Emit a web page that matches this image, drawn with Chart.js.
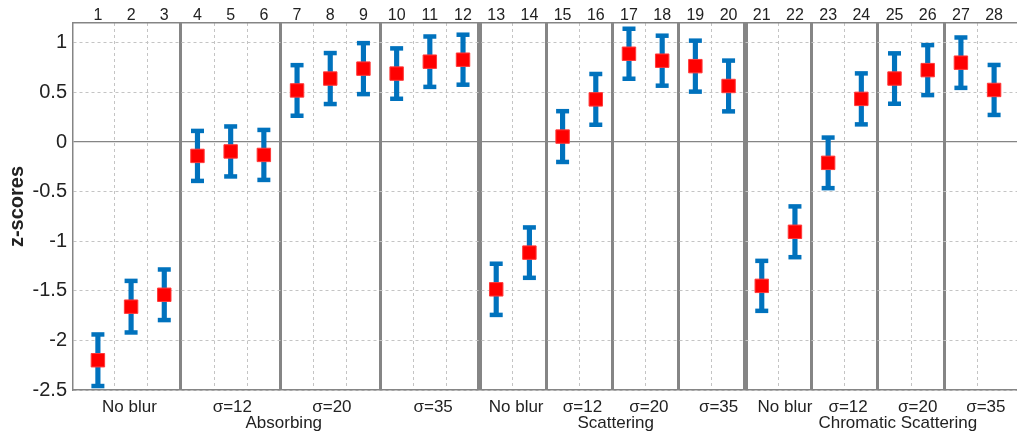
<!DOCTYPE html>
<html>
<head>
<meta charset="utf-8">
<script src="https://cdn.jsdelivr.net/npm/chart.js@4"></script>
<style>
  html, body { margin: 0; padding: 0; background: #fff; overflow: hidden; }
  canvas { display: block; }
</style>
</head>
<body>
<canvas id="chart" width="1030" height="434"></canvas>
<script>
// conditions along the x axis and their labels on top
const conditions = [1, 2, 3, 4, 5, 6, 7, 8, 9, 10, 11, 12, 13, 14, 15, 16, 17, 18, 19, 20, 21, 22, 23, 24, 25, 26, 27, 28];
const topLabels = ['1', '2', '3', '4', '5', '6', '7', '8', '9', '10', '11', '12', '13', '14',
                   '15', '16', '17', '18', '19', '20', '21', '22', '23', '24', '25', '26', '27', '28'];

// mean z-score and half-width of the error bar per condition
const zScores = [-2.20, -1.66, -1.54, -0.14, -0.095, -0.13, 0.52, 0.64, 0.74, 0.69, 0.81, 0.83, -1.485, -1.115,
                 0.055, 0.43, 0.89, 0.82, 0.765, 0.565, -1.45, -0.905, -0.21, 0.435, 0.64, 0.725, 0.80, 0.525];
const zErrors = [0.26, 0.26, 0.255, 0.252, 0.252, 0.252, 0.255, 0.257, 0.257, 0.254, 0.254, 0.252, 0.258, 0.254,
                 0.256, 0.256, 0.252, 0.252, 0.257, 0.256, 0.252, 0.256, 0.255, 0.257, 0.254, 0.252, 0.254, 0.252];

const yTicks = [-2.5, -2, -1.5, -1, -0.5, 0, 0.5, 1];
const yTickLabels = ['-2.5', '-2', '-1.5', '-1', '-0.5', '0', '0.5', '1'];

// bottom labels: blur condition row and group row
const blurLabels = ['No blur', 'σ=12', 'σ=20', 'σ=35', 'No blur', 'σ=12', 'σ=20', 'σ=35', 'No blur', 'σ=12', 'σ=20', 'σ=35'];
const blurLabelPos = [1.95, 5.05, 8.05, 11.1, 13.6, 15.6, 17.6, 19.7, 21.7, 23.6, 25.7, 27.75];
const groupLabels = ['Absorbing', 'Scattering', 'Chromatic Scattering'];
const groupLabelPos = [6.6, 16.6, 25.1];

// vertical lines between conditions
const gridX = [1.5, 2.5, 3.5, 4.5, 5.5, 6.5, 7.5, 8.5, 9.5, 10.5, 11.5, 12.5, 13.5, 14.5,
               15.5, 16.5, 17.5, 18.5, 19.5, 20.5, 21.5, 22.5, 23.5, 24.5, 25.5, 26.5, 27.5];
const blurSeps = [3.5, 6.5, 9.5, 14.5, 16.5, 18.5, 22.5, 24.5, 26.5];
const groupSeps = [12.5, 20.5];

const X_MIN = 0.25, X_MAX = 28.75;
const BLUE = '#0072bd';
const GREY = '#858585';
const DASH = '#c4c4c4';
const TEXT = '#222';
const FONT = 'Liberation Sans, Arial, sans-serif';

const stems = conditions.map((c, i) => ({ x: c, y: [zScores[i] - zErrors[i], zScores[i] + zErrors[i]] }));
const caps = conditions.flatMap((c, i) => [
    { x: c, y: zScores[i] - zErrors[i] },
    { x: c, y: zScores[i] + zErrors[i] },
]);
const means = conditions.map((c, i) => ({ x: c, y: zScores[i] }));

function setTicks(values) {
    return scale => { scale.ticks = values.map(v => ({ value: v })); };
}

// bottom text rows are separate stacked axes (labels get clipped to their box)
function labelAxis(values, labels, height, padding, weight) {
    return {
        type: 'linear',
        position: 'bottom',
        weight: weight,
        min: X_MIN,
        max: X_MAX,
        afterBuildTicks: setTicks(values),
        afterFit: s => { s.height = height; },
        grid: { display: false, drawTicks: false },
        border: { display: false },
        ticks: {
            autoSkip: false,
            maxRotation: 0,
            padding: padding,
            color: TEXT,
            font: { family: FONT, size: 17 },
            callback: (v, i) => labels[i],
        },
    };
}

new Chart(document.getElementById('chart'), {
    type: 'scatter',
    data: {
        datasets: [
            {
                type: 'bar',
                data: stems,
                backgroundColor: BLUE,
                borderWidth: 0,
                barThickness: 4.5,
                grouped: false,
                order: 3,
            },
            {
                data: caps,
                pointStyle: 'line',
                radius: 6.5,
                borderWidth: 4.5,
                borderColor: BLUE,
                order: 2,
            },
            {
                data: means,
                pointStyle: 'rect',
                radius: 9.5,
                backgroundColor: '#ff0000',
                borderColor: '#ff3a3a',
                borderWidth: 1,
                order: 1,
            },
        ],
    },
    options: {
        responsive: false,
        animation: false,
        events: [],
        layout: { padding: { left: 0, right: 9, top: 0, bottom: 0 } },
        plugins: { legend: { display: false }, tooltip: { enabled: false } },
        scales: {
            x: {
                type: 'linear',
                position: 'bottom',
                weight: 0,
                min: X_MIN,
                max: X_MAX,
                offset: false,
                afterBuildTicks: setTicks(gridX),
                grid: {
                    offset: false,
                    drawTicks: false,
                    color: ctx => (blurSeps.includes(ctx.tick.value) || groupSeps.includes(ctx.tick.value)) ? GREY : DASH,
                    lineWidth: ctx => groupSeps.includes(ctx.tick.value) ? 5 : blurSeps.includes(ctx.tick.value) ? 3 : 1,
                },
                border: {
                    display: true,
                    color: GREY,
                    width: 1.5,
                    dash: ctx => (ctx.type === 'tick' && !blurSeps.includes(ctx.tick.value) && !groupSeps.includes(ctx.tick.value)) ? [3, 3] : [],
                },
                ticks: { display: false },
                afterFit: s => { s.height = 0; },
            },
            xBlur: labelAxis(blurLabelPos, blurLabels, 24, 7, 1),
            xGroup: labelAxis(groupLabelPos, groupLabels, 20, -1, 2),
            xTop: {
                type: 'linear',
                position: 'top',
                min: X_MIN,
                max: X_MAX,
                afterBuildTicks: setTicks(conditions),
                afterFit: s => { s.height = 23; },
                grid: { display: false, drawTicks: false },
                border: { display: true, color: GREY, width: 1.5 },
                ticks: {
                    autoSkip: false,
                    maxRotation: 0,
                    padding: -2,
                    color: TEXT,
                    font: { family: FONT, size: 16 },
                    callback: (v, i) => topLabels[i],
                },
            },
            y: {
                type: 'linear',
                min: -2.5,
                max: 1.2,
                afterBuildTicks: setTicks(yTicks),
                afterFit: s => { s.width = 73; },
                grid: {
                    drawTicks: false,
                    color: ctx => ctx.tick.value === 0 ? GREY : DASH,
                    lineWidth: ctx => ctx.tick.value === 0 ? 1.2 : 1,
                },
                border: {
                    display: true,
                    color: GREY,
                    width: 1.5,
                    dash: ctx => (ctx.type === 'tick' && ctx.tick.value !== 0) ? [3, 3] : [],
                },
                ticks: {
                    padding: 6,
                    color: TEXT,
                    font: { family: FONT, size: 20 },
                    callback: (v, i) => yTickLabels[i],
                },
                title: {
                    display: true,
                    text: 'z-scores',
                    color: TEXT,
                    font: { family: FONT, size: 20, weight: 'bold' },
                    padding: { top: 5, bottom: 0 },
                },
            },
        },
    },
});
</script>
</body>
</html>
